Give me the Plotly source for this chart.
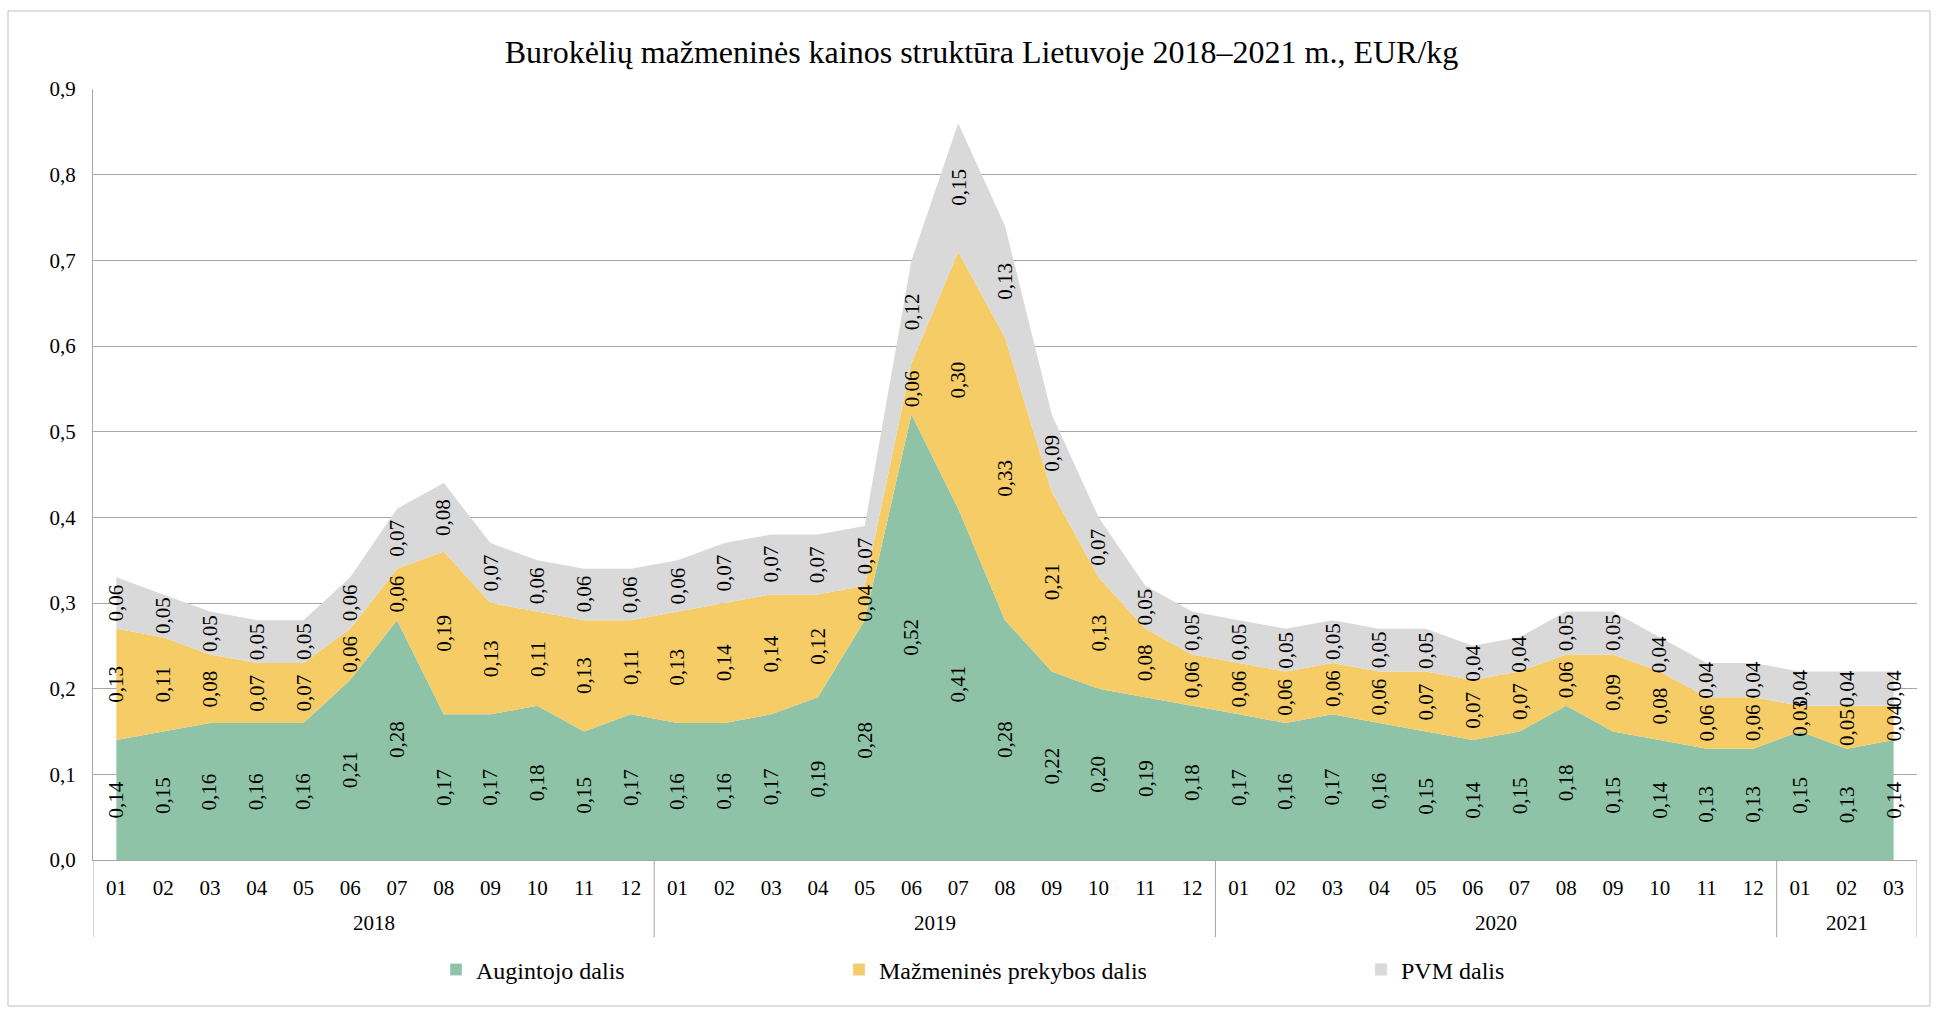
import plotly.graph_objects as go

# ---- data ----
years = ["2018"] * 12 + ["2019"] * 12 + ["2020"] * 12 + ["2021"] * 3
months = ["01", "02", "03", "04", "05", "06", "07", "08", "09", "10", "11", "12"] * 3 + ["01", "02", "03"]

augintojo = [0.14, 0.15, 0.16, 0.16, 0.16, 0.21, 0.28, 0.17, 0.17, 0.18, 0.15, 0.17,
             0.16, 0.16, 0.17, 0.19, 0.28, 0.52, 0.41, 0.28, 0.22, 0.20, 0.19, 0.18,
             0.17, 0.16, 0.17, 0.16, 0.15, 0.14, 0.15, 0.18, 0.15, 0.14, 0.13, 0.13,
             0.15, 0.13, 0.14]
mazmenine = [0.13, 0.11, 0.08, 0.07, 0.07, 0.06, 0.06, 0.19, 0.13, 0.11, 0.13, 0.11,
             0.13, 0.14, 0.14, 0.12, 0.04, 0.06, 0.30, 0.33, 0.21, 0.13, 0.08, 0.06,
             0.06, 0.06, 0.06, 0.06, 0.07, 0.07, 0.07, 0.06, 0.09, 0.08, 0.06, 0.06,
             0.03, 0.05, 0.04]
pvm = [0.06, 0.05, 0.05, 0.05, 0.05, 0.06, 0.07, 0.08, 0.07, 0.06, 0.06, 0.06,
       0.06, 0.07, 0.07, 0.07, 0.07, 0.12, 0.15, 0.13, 0.09, 0.07, 0.05, 0.05,
       0.05, 0.05, 0.05, 0.05, 0.05, 0.04, 0.04, 0.05, 0.05, 0.04, 0.04, 0.04,
       0.04, 0.04, 0.04]

series_names = ["Augintojo dalis", "Mažmeninės prekybos dalis", "PVM dalis"]
series_values = [augintojo, mazmenine, pvm]
colors = ["#8EC3A7", "#F5CC66", "#D9D9D9"]

title_text = "Burokėlių mažmeninės kainos struktūra Lietuvoje 2018–2021 m., EUR/kg"

FONT = "Liberation Serif, Times New Roman, DejaVu Serif, serif"
x = list(range(len(months)))

fig = go.Figure()
for name, vals, col in zip(series_names, series_values, colors):
    fig.add_trace(go.Scatter(
        x=x, y=vals, name=name, stackgroup="one", mode="none",
        fillcolor=col, line=dict(width=0), showlegend=False,
        hoverinfo="x+y+name",
    ))

# legend entries (square symbols) in separate legends for exact placement
legend_names = ["legend", "legend2", "legend3"]
for name, col, lg in zip(series_names, colors, legend_names):
    fig.add_trace(go.Bar(x=[None], y=[None], name=name, marker_color=col,
                         showlegend=True, legend=lg))

# data labels (rotated), centred in each band
annotations = []
base = [0.0] * len(x)
for vals in series_values:
    for i, v in enumerate(vals):
        annotations.append(dict(
            x=i, y=base[i] + v / 2, xref="x", yref="y",
            text=f"{v:.2f}".replace(".", ","), showarrow=False, textangle=-90,
            font=dict(family=FONT, size=21, color="black"),
        ))
        base[i] += v

# year group labels and dividers
shapes = []
groups = []
start = 0
for i in range(1, len(years) + 1):
    if i == len(years) or years[i] != years[start]:
        groups.append((years[start], start, i - 1))
        start = i
for yr, a, b in groups:
    annotations.append(dict(
        x=(a + b) / 2, y=-0.0817, xref="x", yref="paper", text=yr,
        showarrow=False, yanchor="middle",
        font=dict(family=FONT, size=21, color="black"),
    ))
    shapes.append(dict(type="line", xref="x", yref="paper", x0=a - 0.5, x1=a - 0.5,
                       y0=0, y1=-0.1, line=dict(color="#A6A6A6", width=1)))
shapes.append(dict(type="line", xref="x", yref="paper", x0=len(x) - 0.5, x1=len(x) - 0.5,
                   y0=0, y1=-0.1, line=dict(color="#A6A6A6", width=1)))

# outer chart border
shapes.append(dict(type="rect", xref="paper", yref="paper", x0=-0.0466, x1=1.0071,
                   y0=-0.1894, y1=1.1012, line=dict(color="#BFBFBF", width=1),
                   fillcolor="rgba(0,0,0,0)", layer="below"))

leg_common = dict(orientation="h", xref="container", yref="container", y=0.0387,
                  xanchor="left", yanchor="middle", font=dict(family=FONT, size=24),
                  bgcolor="rgba(0,0,0,0)", itemwidth=30)

fig.update_layout(
    width=1937, height=1009,
    margin=dict(l=93, r=20, t=89, b=149, autoexpand=False),
    paper_bgcolor="white", plot_bgcolor="white",
    separators=", ",
    font=dict(family=FONT, size=21, color="black"),
    title=dict(text=title_text, x=0.5067, xref="container", xanchor="center",
               y=0.9485, yref="container", yanchor="middle",
               font=dict(family=FONT, size=32, color="black")),
    xaxis=dict(range=[-0.5, len(x) - 0.5], tickmode="array", tickvals=x, ticktext=months,
               showgrid=False, zeroline=False, showline=True, linecolor="#A6A6A6",
               ticks="", ticklabelstandoff=9, tickfont=dict(family=FONT, size=21),
               automargin=False),
    yaxis=dict(range=[0, 0.9], dtick=0.1, tickformat=".1f", showgrid=True,
               gridcolor="#A6A6A6", gridwidth=1, zeroline=False, showline=True,
               linecolor="#A6A6A6", ticks="", ticklabelstandoff=12,
               tickfont=dict(family=FONT, size=21), automargin=False),
    annotations=annotations,
    shapes=shapes,
    showlegend=True,
    legend=dict(x=436 / 1937, **leg_common),
    legend2=dict(x=839 / 1937, **leg_common),
    legend3=dict(x=1361 / 1937, **leg_common),
)

fig.write_html("out.html", config={"displayModeBar": False},
               post_script="document.body.style.margin='0px';document.body.style.overflow='hidden';")
